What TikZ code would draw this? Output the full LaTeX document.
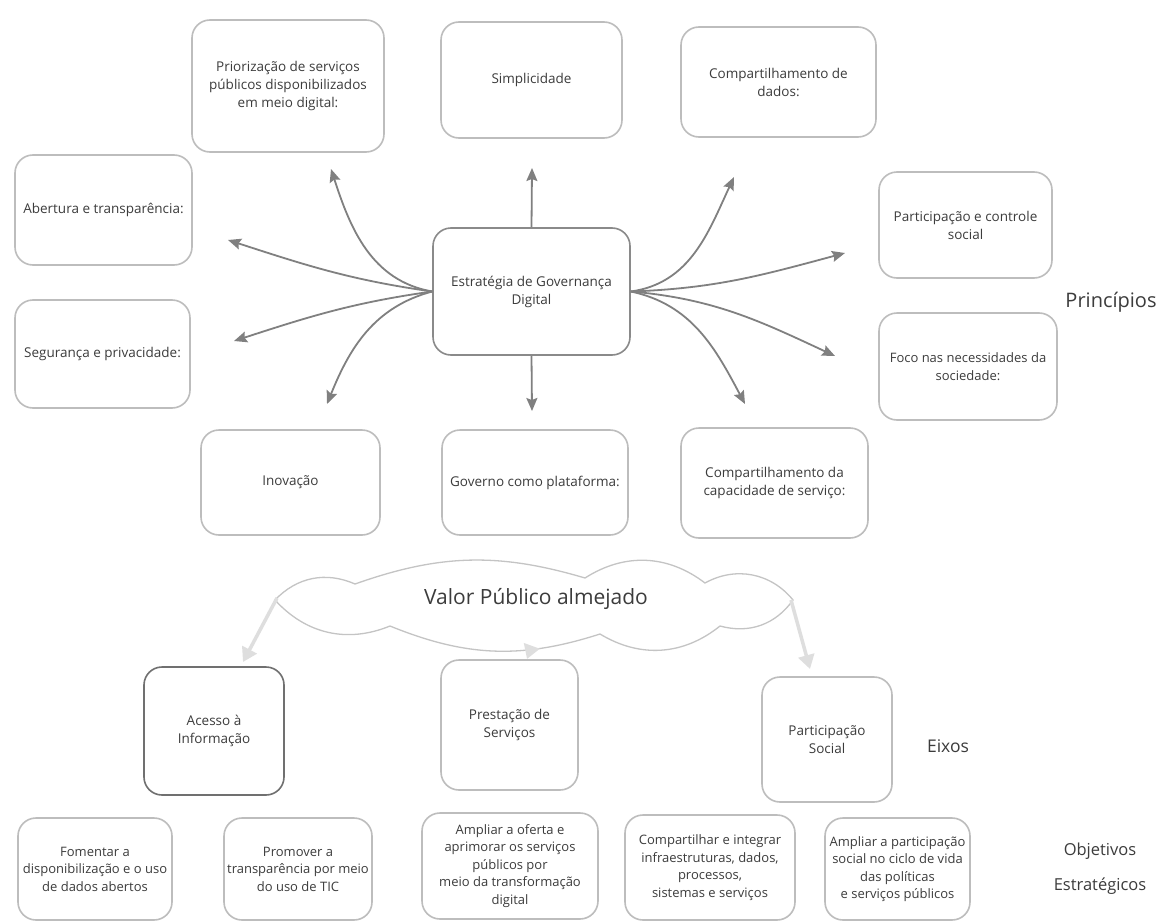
\documentclass[tikz,border=0pt]{standalone}
\usepackage{fontspec}
\setmainfont{Open Sans}
\usetikzlibrary{arrows.meta}

\definecolor{txt}{HTML}{3C3C3C}
\definecolor{boxline}{HTML}{BDBDBD}
\definecolor{darkline}{HTML}{8A8A8A}
\definecolor{eixoline}{HTML}{707070}
\definecolor{arrgray}{HTML}{808080}
\definecolor{cloudarr}{HTML}{DEDEDE}
\definecolor{cloudline}{HTML}{C4C4C4}

\tikzset{
  box/.style={draw=boxline, line width=1.6pt, rounded corners=18pt, align=center,
    text=txt, font=\fontsize{13.5}{18}\selectfont, inner sep=2pt},
  objbox/.style={box, font=\fontsize{13}{17.5}\selectfont},
  arr/.style={draw=arrgray, line width=1.8pt,
    -{Stealth[length=13pt, width=11pt, inset=2pt]}},
  carr/.style={draw=cloudarr, line width=3.5pt,
    -{Triangle[length=14pt, width=16pt]}},
  lbl/.style={text=txt, align=center, font=\fontsize{16.5}{35}\selectfont}
}

\begin{document}
\begin{tikzpicture}[x=1pt, y=-1pt]
\useasboundingbox[fill=white] (0,0) rectangle (1158,923);

% central node
\node[box, draw=darkline, minimum width=197pt, minimum height=127pt] (ctr) at (531.5,291.5)
  {Estratégia de Governança\\Digital};

% principles
\node[box, minimum width=192pt, minimum height=132pt] (pri) at (288,86)
  {Priorização de serviços\\públicos disponibilizados\\em meio digital:};
\node[box, minimum width=181pt, minimum height=116pt] (sim) at (531.5,80) {Simplicidade};
\node[box, minimum width=195pt, minimum height=110pt] (cdd) at (778.5,82)
  {Compartilhamento de\\dados:};
\node[box, minimum width=177pt, minimum height=110pt] (abe) at (103.5,210)
  {Abertura e transparência:};
\node[box, minimum width=173pt, minimum height=106pt] (par) at (965.5,225)
  {Participação e controle\\social};
\node[box, minimum width=175pt, minimum height=108pt] (seg) at (102.5,354)
  {Segurança e privacidade:};
\node[box, font=\fontsize{13}{18}\selectfont, minimum width=178pt, minimum height=107pt] (foc) at (968,366.5)
  {Foco nas necessidades da\\sociedade:};
\node[box, minimum width=179pt, minimum height=105pt] (ino) at (290.5,482.5) {Inovação};
\node[box, minimum width=186pt, minimum height=105pt] (gov) at (535,482.5)
  {Governo como plataforma:};
\node[box, minimum width=187pt, minimum height=110pt] (ccs) at (774.5,483)
  {Compartilhamento da\\capacidade de serviço:};

% arrow tips
\coordinate (tpri) at (331,169);
\coordinate (tabe) at (228,240);
\coordinate (tseg) at (234,341);
\coordinate (tino) at (327,404);
\coordinate (tsim) at (532,168);
\coordinate (tgov) at (532,411);
\coordinate (tcdd) at (734,177);
\coordinate (tpar) at (845,253);
\coordinate (tfoc) at (835,356);
\coordinate (tccs) at (745,404);

\draw[arr] (ctr.west) to[out=170, in=-72] (tpri);
\draw[arr] (ctr.west) to[out=172, in=-18] (tabe);
\draw[arr] (ctr.west) to[out=188, in=18] (tseg);
\draw[arr] (ctr.west) to[out=195, in=68] (tino);
\draw[arr] (ctr.north) -- (tsim);
\draw[arr] (ctr.south) -- (tgov);
\draw[arr] (ctr.east) to[out=8, in=-115] (tcdd);
\draw[arr] (ctr.east) to[out=2, in=195] (tpar);
\draw[arr] (ctr.east) to[out=-5, in=155] (tfoc);
\draw[arr] (ctr.east) to[out=-12, in=118] (tccs);

% public value cloud: a ring of puffs with pointed ends
\draw[draw=cloudline, line width=1.3pt, fill=white]
  (793,600)
  to[bend right=40] (705,583)
  to[bend right=35] (585,578)
  to[bend right=18] (355,584)
  to[bend right=35] (275,600)
  to[bend right=35] (390,626)
  to[bend right=20] (600,634)
  to[bend right=35] (720,626)
  to[bend right=35] (793,600) -- cycle;
\node[text=txt, font=\fontsize{21}{24}\selectfont] (val) at (536,599) {Valor Público almejado};
\coordinate (cw) at (277,598);
\coordinate (cs) at (531,648);
\coordinate (ce) at (791,600);

% axes
\node[box, draw=eixoline, minimum width=140pt, minimum height=128pt] (ace) at (214,731)
  {Acesso à\\Informação};
\node[box, minimum width=137pt, minimum height=130pt] (pre) at (509.5,725)
  {Prestação de\\Serviços};
\node[box, minimum width=130pt, minimum height=125pt] (pso) at (827,739.5)
  {Participação\\Social};

\coordinate (tace) at (243,662);
\coordinate (tpre) at (527,659);
\coordinate (tpso) at (810,669);
\draw[carr] (cw) -- (tace);
\draw[carr] (cs) -- (tpre);
\draw[carr] (ce) -- (tpso);

% strategic objectives
\node[objbox, minimum width=154pt, minimum height=102pt] (o1) at (95,869)
  {Fomentar a\\disponibilização e o uso\\de dados abertos};
\node[objbox, minimum width=148pt, minimum height=102pt] (o2) at (298,869)
  {Promover a\\transparência por meio\\do uso de TIC};
\node[objbox, minimum width=176pt, minimum height=106pt] (o3) at (510,866)
  {Ampliar a oferta e\\aprimorar os serviços\\públicos por\\meio da transformação\\digital};
\node[objbox, minimum width=170pt, minimum height=105pt] (o4) at (710,867.5)
  {Compartilhar e integrar\\infraestruturas, dados,\\processos,\\sistemas e serviços};
\node[objbox, minimum width=145pt, minimum height=102pt] (o5) at (897.5,869)
  {Ampliar a participação\\social no ciclo de vida\\das políticas\\e serviços públicos};

% level labels
\node[lbl, font=\fontsize{20}{24}\selectfont] (lpri) at (1111,302) {Princípios};
\node[lbl, font=\fontsize{17.5}{22}\selectfont] (leix) at (948,746) {Eixos};
\node[lbl] (lobj) at (1100,869) {Objetivos\\Estratégicos};
\end{tikzpicture}
\end{document}
